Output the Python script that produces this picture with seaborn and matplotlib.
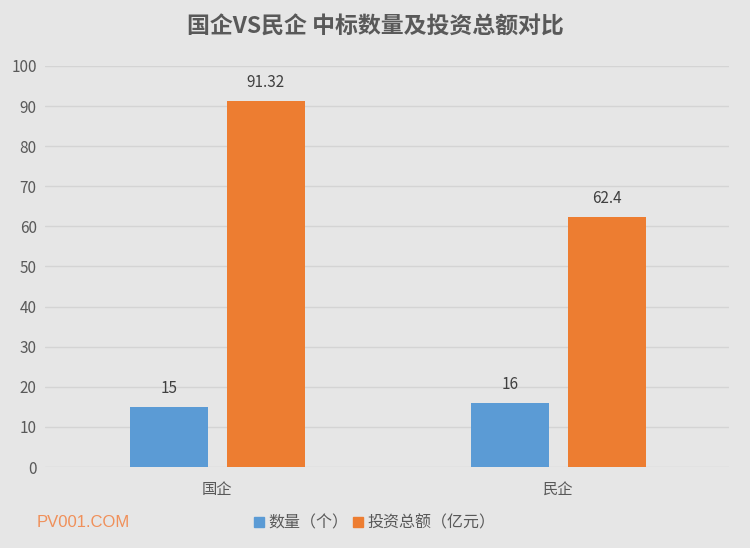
import matplotlib
matplotlib.use("Agg")
import matplotlib.pyplot as plt
import seaborn as sns
import pandas as pd
from matplotlib.patches import Patch

categories = ["国企", "民企"]
series_names = ["数量（个）", "投资总额（亿元）"]
count_values = [15, 16]
invest_values = [91.32, 62.4]
value_labels_count = ["15", "16"]
value_labels_invest = ["91.32", "62.4"]
y_ticks = [0, 10, 20, 30, 40, 50, 60, 70, 80, 90, 100]

sns.set_style("white")
plt.rcParams['font.family'] = ['Noto Sans CJK SC', 'DejaVu Sans']

df = pd.DataFrame({
    "cat": categories * 2,
    "series": [series_names[0]] * 2 + [series_names[1]] * 2,
    "value": count_values + invest_values,
})

bg = "#e6e6e6"
fig = plt.figure(figsize=(7.5, 5.48), dpi=100, facecolor=bg)
ax = fig.add_axes([0.06, 0.1478, 0.912, 0.7318])
ax.set_facecolor(bg)

palette = {series_names[0]: "#5b9bd5", series_names[1]: "#ed7d31"}
sns.barplot(data=df, x="cat", y="value", hue="series", order=categories,
            hue_order=series_names, palette=palette, width=0.57, gap=0.2,
            saturation=1, linewidth=0, ax=ax, legend=False)

ax.set_xlim(-0.505, 1.5)
ax.set_ylim(0, 100)
ax.set_yticks(y_ticks)
ax.grid(axis="y", color="#d4d4d4", linewidth=1)
ax.set_axisbelow(True)
for s in ax.spines.values():
    s.set_visible(False)
ax.tick_params(axis="both", length=0, labelsize=11, colors="#595959")
ax.tick_params(axis="x", pad=10)
ax.tick_params(axis="y", pad=6)
ax.set_xlabel("")
ax.set_ylabel("")

labels_all = [value_labels_count, value_labels_invest]
for cont, labs in zip(ax.containers, labels_all):
    ax.bar_label(cont, labels=labs, padding=7, fontsize=11, color="#404040")

fig.text(0.5, 0.951, "国企VS民企 中标数量及投资总额对比", fontsize=16.5,
         fontweight="bold", color="#595959", ha="center", va="center")

handles = [Patch(color=palette[n]) for n in series_names]
fig.legend(handles, series_names, loc="center", bbox_to_anchor=(0.5, 0.045),
           ncol=2, frameon=False, fontsize=11.5, labelcolor="#595959",
           handlelength=0.6, handleheight=0.6, handletextpad=0.3, columnspacing=0.3)

fig.text(0.049, 0.047, "PV001.COM", color="#f0905a", fontsize=12,
         va="center", ha="left", family=["Liberation Sans", "DejaVu Sans"])

fig.savefig("out.png", dpi=100, facecolor=bg)
